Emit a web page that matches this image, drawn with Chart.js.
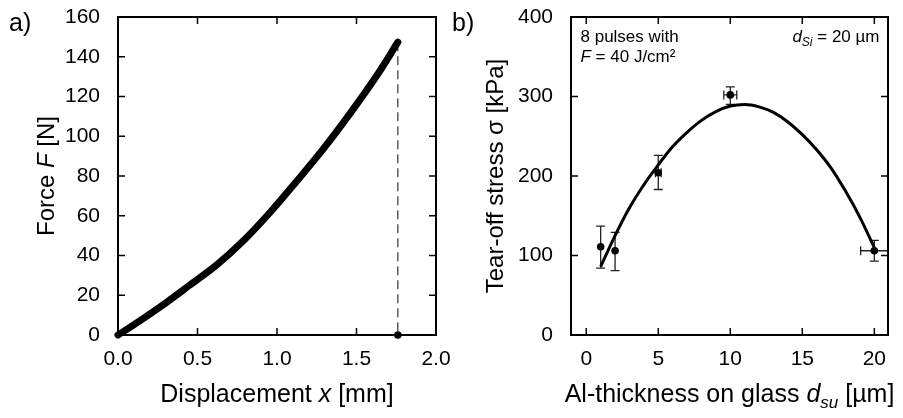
<!DOCTYPE html>
<html>
<head>
<meta charset="utf-8">
<script src="https://cdn.jsdelivr.net/npm/chart.js@4.4.1/dist/chart.umd.min.js"></script>
<style>
  html, body { margin: 0; padding: 0; background: #fff; }
  #wrap { position: relative; width: 903px; height: 418px; overflow: hidden; }
  #chartA { position: absolute; left: 0; top: 0; }
  #chartB { position: absolute; left: 450px; top: 0; }
</style>
</head>
<body>
<div id="wrap">
  <canvas id="chartA" width="452" height="418"></canvas>
  <canvas id="chartB" width="453" height="418"></canvas>
</div>
<script>
// panel a) force vs displacement
const dispX  = [0, 0.033, 0.16, 0.31, 0.45, 0.62, 0.79, 0.96, 1.12, 1.29, 1.46, 1.63, 1.76];
const forceY = [0, 1.7, 8.4, 16.7, 25, 35.2, 47.5, 62, 77, 93.5, 111.5, 130.8, 147.3];
const breakX = 1.76;
const breakF = 147.3;
const ticksAX = [0, 0.5, 1, 1.5, 2];
const ticksAY = [0, 20, 40, 60, 80, 100, 120, 140, 160];

// panel b) tear-off stress vs Al thickness
const thickX   = [1, 2, 5, 10, 20];
const stressY  = [111, 106, 204, 302, 106];
const stressLo = [84, 81, 183, 290, 93];
const stressHi = [137, 129, 226, 312, 119];
const thickErr = [0, 0, 0.2, 0.45, 0.95];
const fitX = [1, 2, 3, 4, 5, 6, 7, 8, 9, 10, 11, 12, 13, 14, 15, 16, 17, 18, 19, 20];
const fitY = [86, 125, 160, 189, 214, 237, 255, 270, 281, 288, 290, 287, 280, 268, 252, 233, 210, 181, 148, 110];
const ticksBX = [0, 5, 10, 15, 20];
const ticksBY = [0, 100, 200, 300, 400];

const FONT = '"Liberation Sans", Arial, sans-serif';
Chart.defaults.font.family = FONT;
Chart.defaults.color = '#000';

// draw a row of text pieces with different fonts, centred or aligned at x
function drawRuns(ctx, runs, x, y, align) {
    let total = 0;
    runs.forEach(r => { ctx.font = r.font + ' ' + FONT; r.w = ctx.measureText(r.text).width; total += r.w; });
    let cx = x - total / 2;
    if (align === 'left') cx = x;
    if (align === 'right') cx = x - total;
    ctx.textAlign = 'left';
    ctx.textBaseline = 'alphabetic';
    runs.forEach(r => {
        ctx.font = r.font + ' ' + FONT;
        ctx.fillText(r.text, cx, y + (r.dy || 0));
        cx += r.w;
    });
}

// box around plot plus inward ticks on all four sides
const frameTicks = {
    id: 'frameTicks',
    afterDraw(chart) {
        const { ctx, chartArea: a, scales } = chart;
        const len = 7;
        ctx.save();
        ctx.strokeStyle = '#000';
        ctx.lineWidth = 1.5;
        ctx.beginPath();
        scales.x.ticks.forEach(t => {
            const px = scales.x.getPixelForValue(t.value);
            ctx.moveTo(px, a.bottom); ctx.lineTo(px, a.bottom - len);
            ctx.moveTo(px, a.top); ctx.lineTo(px, a.top + len);
        });
        scales.y.ticks.forEach(t => {
            const py = scales.y.getPixelForValue(t.value);
            ctx.moveTo(a.left, py); ctx.lineTo(a.left + len, py);
            ctx.moveTo(a.right, py); ctx.lineTo(a.right - len, py);
        });
        ctx.stroke();
        ctx.lineWidth = 2;
        ctx.strokeRect(a.left, a.top, a.right - a.left, a.bottom - a.top);
        ctx.restore();
    }
};

const textA = {
    id: 'textA',
    afterDraw(chart) {
        const { ctx, chartArea: a } = chart;
        ctx.save();
        ctx.fillStyle = '#000';
        drawRuns(ctx, [{ text: 'a)', font: '25px' }], 9, 31, 'left');
        drawRuns(ctx, [
            { text: 'Displacement ', font: '25px' },
            { text: 'x', font: 'italic 25px' },
            { text: ' [mm]', font: '25px' }
        ], (a.left + a.right) / 2, 402);
        ctx.translate(53.5, (a.top + a.bottom) / 2);
        ctx.rotate(-Math.PI / 2);
        drawRuns(ctx, [
            { text: 'Force ', font: '24px' },
            { text: 'F', font: 'italic 24px' },
            { text: ' [N]', font: '24px' }
        ], 0, 0);
        ctx.restore();
    }
};

const textB = {
    id: 'textB',
    afterDraw(chart) {
        const { ctx, chartArea: a } = chart;
        ctx.save();
        ctx.fillStyle = '#000';
        drawRuns(ctx, [{ text: 'b)', font: '25px' }], 2, 31, 'left');
        drawRuns(ctx, [
            { text: 'Al-thickness on glass ', font: '25px' },
            { text: 'd', font: 'italic 25px' },
            { text: 'su', font: 'italic 17px', dy: 6 },
            { text: ' [µm]', font: '25px' }
        ], (a.left + a.right) / 2, 402);
        drawRuns(ctx, [{ text: '8 pulses with', font: '17px' }], 130.5, 42, 'left');
        drawRuns(ctx, [
            { text: 'F', font: 'italic 17px' },
            { text: ' = 40 J/cm²', font: '17px' }
        ], 130.5, 62, 'left');
        drawRuns(ctx, [
            { text: 'd', font: 'italic 17px' },
            { text: 'Si', font: 'italic 12px', dy: 4 },
            { text: ' = 20 µm', font: '17px' }
        ], 429.5, 42, 'right');
        ctx.translate(52.7, (a.top + a.bottom) / 2);
        ctx.rotate(-Math.PI / 2);
        drawRuns(ctx, [{ text: 'Tear-off stress σ [kPa]', font: '24px' }], 0, 0);
        ctx.restore();
    }
};

const errorBars = {
    id: 'errorBars',
    beforeDatasetsDraw(chart) {
        const { ctx, scales: { x, y } } = chart;
        const cap = 4.5;
        ctx.save();
        ctx.strokeStyle = '#222';
        ctx.lineWidth = 1.3;
        ctx.beginPath();
        thickX.forEach((tx, i) => {
            const px = x.getPixelForValue(tx);
            const yl = y.getPixelForValue(stressLo[i]);
            const yh = y.getPixelForValue(stressHi[i]);
            ctx.moveTo(px, yl); ctx.lineTo(px, yh);
            ctx.moveTo(px - cap, yl); ctx.lineTo(px + cap, yl);
            ctx.moveTo(px - cap, yh); ctx.lineTo(px + cap, yh);
            if (thickErr[i] > 0) {
                const py = y.getPixelForValue(stressY[i]);
                const xl = x.getPixelForValue(tx - thickErr[i]);
                const xr = x.getPixelForValue(tx + thickErr[i]);
                ctx.moveTo(xl, py); ctx.lineTo(xr, py);
                ctx.moveTo(xl, py - cap); ctx.lineTo(xl, py + cap);
                ctx.moveTo(xr, py - cap); ctx.lineTo(xr, py + cap);
            }
        });
        ctx.stroke();
        ctx.restore();
    }
};

function xScale(min, max, tickVals, fmt) {
    return {
        type: 'linear', min, max,
        grid: { display: false }, border: { display: false },
        ticks: { font: { size: 21 }, color: '#000', padding: 4, maxRotation: 0, callback: fmt },
        afterBuildTicks: s => { s.ticks = tickVals.map(v => ({ value: v })); },
        afterFit: s => { s.height = 83; s.paddingLeft = 0; s.paddingRight = 0; }
    };
}

function yScale(min, max, tickVals, width) {
    return {
        type: 'linear', min, max,
        grid: { display: false }, border: { display: false },
        ticks: { font: { size: 21 }, color: '#000', padding: 10 },
        afterBuildTicks: s => { s.ticks = tickVals.map(v => ({ value: v })); },
        afterFit: s => { s.width = width; s.paddingTop = 0; s.paddingBottom = 0; }
    };
}

new Chart(document.getElementById('chartA'), {
    type: 'line',
    data: {
        datasets: [
            {
                data: dispX.map((x, i) => ({ x, y: forceY[i] })),
                borderColor: '#000', borderWidth: 7,
                borderCapStyle: 'round', borderJoinStyle: 'round',
                pointRadius: 0, cubicInterpolationMode: 'monotone', clip: false
            },
            {
                data: [{ x: breakX, y: breakF }, { x: breakX, y: 0 }],
                borderColor: '#333', borderWidth: 1.2, borderDash: [9, 5],
                pointRadius: 0, clip: false
            },
            {
                data: [{ x: breakX, y: 0 }],
                showLine: false, pointRadius: 3.8,
                pointBackgroundColor: '#000', pointBorderWidth: 0, clip: false
            }
        ]
    },
    options: {
        responsive: false,
        animation: false,
        layout: { padding: { left: 0, top: 17, right: 16, bottom: 0 } },
        plugins: { legend: { display: false }, tooltip: { enabled: false } },
        scales: {
            x: xScale(0, 2, ticksAX, v => v.toFixed(1)),
            y: yScale(0, 160, ticksAY, 118)
        }
    },
    plugins: [frameTicks, textA]
});

new Chart(document.getElementById('chartB'), {
    type: 'line',
    data: {
        datasets: [
            {
                data: thickX.map((x, i) => ({ x, y: stressY[i] })),
                showLine: false, pointRadius: 3.8,
                pointBackgroundColor: '#000', pointBorderWidth: 0, clip: false
            },
            {
                data: fitX.map((x, i) => ({ x, y: fitY[i] })),
                borderColor: '#000', borderWidth: 3, pointRadius: 0,
                cubicInterpolationMode: 'monotone', clip: false
            }
        ]
    },
    options: {
        responsive: false,
        animation: false,
        layout: { padding: { left: 0, top: 17, right: 15, bottom: 0 } },
        plugins: { legend: { display: false }, tooltip: { enabled: false } },
        scales: {
            x: xScale(-1.06, 20.95, ticksBX, v => String(v)),
            y: yScale(0, 400, ticksBY, 121)
        }
    },
    plugins: [errorBars, frameTicks, textB]
});
</script>
</body>
</html>
